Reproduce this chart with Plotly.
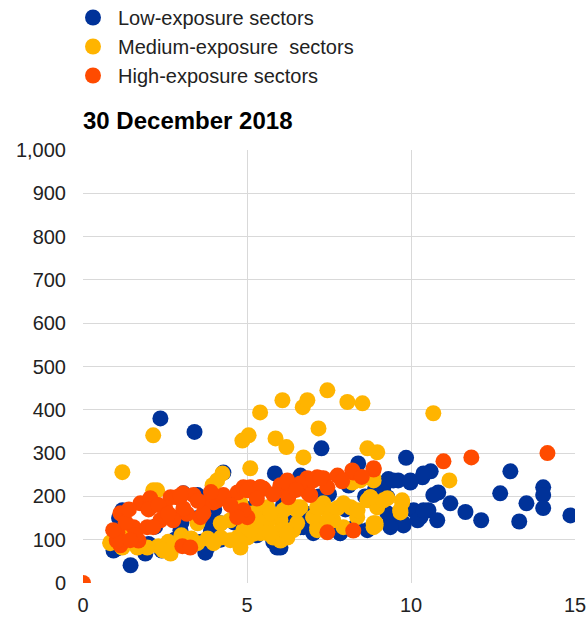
import plotly.graph_objects as go

# Low-exposure sectors
low_x = [2.36, 3.40, 7.27, 8.39, 9.85, 10.60, 10.35, 9.98, 9.61, 9.31, 10.83, 10.68, 11.20, 11.66, 12.14,
         12.72, 13.03, 13.52, 13.30, 14.03, 14.03, 14.03, 14.86, 10.53, 10.80, 10.29, 9.77, 9.37, 9.16, 9.28,
         9.28, 10.08, 5.85, 4.28, 1.45, 0.93, 1.05, 1.90, 3.73, 1.20, 3.50, 2.97, 3.88, 6.02, 6.63,
         7.02, 7.84, 8.67, 6.63, 1.0, 1.3, 1.6, 2.0, 2.4, 2.8, 3.2, 3.6, 3.9, 4.2, 4.6, 5.0, 5.3, 5.6, 5.8,
         6.1, 6.4, 6.8, 7.2, 7.6, 8.0, 8.3, 8.6, 3.0, 3.5, 4.0, 2.2, 1.1, 8.9, 8.1, 7.5, 5.2, 4.5,
         3.06, 3.49, 4.19, 3.79, 5.92, 9.77, 10.20, 10.38, 9.37, 6.72, 7.84, 9.46, 9.98, 10.38, 0.98, 1.20]
low_y = [380, 349, 311, 276, 289, 258, 244, 232, 237, 240, 209, 203, 184, 164, 145,
         207, 258, 184, 142, 221, 203, 173, 156, 168, 145, 152, 133, 140, 221, 161,
         198, 168, 253, 255, 41, 75, 80, 68, 70, 168, 198, 122, 138, 82, 129,
         115, 115, 122, 248, 110, 95, 120, 90, 75, 100, 85, 95, 120, 100, 140, 130, 110, 150, 95,
         180, 140, 160, 200, 140, 170, 130, 200, 140, 150, 170, 130, 150, 215, 225, 205, 175, 190,
         207, 203, 138, 82, 82, 138, 145, 168, 129, 129, 115, 237, 237, 253, 82, 145]

# Medium-exposure sectors
med_x = [5.40, 6.08, 6.70, 6.84, 7.45, 8.06, 8.52, 4.86, 5.05, 5.87, 6.20, 7.18, 6.72, 8.67, 8.97,
         5.10, 4.25, 3.95, 2.14, 1.20, 2.14, 10.68, 11.17, 0.84, 1.20, 1.70, 2.67, 2.30, 3.49, 4.20,
         4.20, 4.71, 5.20, 5.60, 6.02, 3.80, 3.30, 6.02, 5.61, 4.89, 4.80, 6.32, 4.80, 5.40, 6.23,
         6.63, 7.33, 7.76, 8.16, 8.67, 8.97, 7.02, 7.63, 8.36, 8.86, 6.02, 6.41, 7.14, 7.94, 8.86,
         6.23, 8.21, 8.86, 9.28, 9.73, 9.67, 8.92, 8.76, 2.60, 3.00, 1.45, 1.96, 2.57,
         0.83, 1.66, 2.45, 3.49, 3.98, 4.49, 5.01, 5.41, 5.80, 6.11, 6.53, 7.02, 4.49, 5.19, 5.62,
         6.53, 7.24, 2.26, 4.09, 8.76, 9.16, 9.73, 9.68, 8.92, 8.37, 7.94, 7.54, 7.14, 6.53, 6.11,
         5.71, 5.32, 5.10, 5.71, 6.23, 7.14, 7.45, 8.45, 8.85]
med_y = [394, 422, 406, 422, 445, 418, 415, 329, 341, 334, 314, 357, 290, 311, 302,
         265, 253, 226, 341, 256, 214, 392, 237, 94, 82, 90, 68, 85, 138, 138,
         105, 105, 114, 138, 145, 103, 103, 98, 115, 122, 82, 122, 184, 175, 175,
         175, 184, 173, 175, 191, 175, 152, 145, 152, 138, 122, 122, 129, 129, 129,
         105, 232, 237, 196, 191, 168, 133, 198, 95, 110, 110, 82, 82,
         92, 82, 75, 92, 92, 99, 105, 115, 105, 122, 138, 152, 145, 161, 175,
         175, 175, 214, 237, 198, 191, 186, 163, 138, 168, 184, 168, 175, 168, 168,
         161, 145, 122, 115, 115, 122, 145, 237, 244]

# High-exposure sectors
high_x = [0.0, 1.05, 1.23, 1.14, 1.54, 1.75, 1.96, 2.05, 2.36, 2.67, 2.76, 2.87, 3.05, 3.17, 1.14,
          1.03, 1.69, 3.03, 3.27, 3.37, 3.67, 3.98, 4.10, 4.28, 4.71, 4.89, 5.10, 5.40, 5.50, 6.02,
          6.02, 3.06, 3.58, 4.71, 5.01, 4.89, 6.23, 6.84, 6.84, 7.14, 7.33, 7.76, 8.24, 8.21, 8.86,
          8.86, 6.23, 6.26, 6.87, 7.45, 7.45, 8.24, 10.99, 11.84, 14.16, 2.0, 2.5, 1.3, 1.6,
          0.92, 2.97, 4.28, 5.01, 6.63, 7.02, 1.44, 2.14, 2.75, 3.67, 4.70, 6.93, 7.24, 6.23, 5.41,
          2.3, 3.5, 3.9, 4.5, 5.3, 5.8, 6.5, 7.9, 8.5, 1.4, 2.6]
high_y = [0, 117, 156, 161, 129, 184, 129, 196, 145, 198, 152, 198, 207, 160, 87,
          98, 98, 85, 82, 203, 184, 186, 191, 203, 209, 221, 221, 221, 218, 226,
          221, 172, 152, 161, 152, 168, 237, 242, 230, 244, 242, 248, 255, 260, 262,
          265, 207, 198, 207, 221, 117, 121, 281, 290, 300, 170, 175, 140, 110,
          122, 202, 198, 214, 230, 237, 99, 129, 145, 161, 152, 203, 242, 232, 221,
          180, 190, 210, 180, 195, 205, 215, 235, 245, 170, 160]

names = ["Low-exposure sectors", "Medium-exposure  sectors", "High-exposure sectors"]
colors = ["#003299", "#FFB400", "#FF4B00"]
y_ticks = [0, 100, 200, 300, 400, 500, 600, 700, 800, 900, 1000]
x_ticks = [0, 5, 10, 15]

FONT = "Liberation Sans, Arial, sans-serif"
W, H = 587, 619
PLOT_TOP, PLOT_H, PLOT_L, PLOT_W = 150, 433, 83, 492

fig = go.Figure()
for xs, ys, nm, col in zip([low_x, med_x, high_x], [low_y, med_y, high_y], names, colors):
    fig.add_trace(go.Scatter(
        x=xs, y=ys, mode="markers", name=nm,
        marker=dict(color=col, size=16, line=dict(width=0)),
        cliponaxis=True,
    ))

fig.update_layout(
    width=W, height=H,
    margin=dict(l=PLOT_L, r=W - PLOT_L - PLOT_W, t=PLOT_TOP, b=H - PLOT_TOP - PLOT_H, autoexpand=False),
    paper_bgcolor="white", plot_bgcolor="white",
    font=dict(family=FONT, size=20, color="#222222"),
    showlegend=True,
    legend=dict(
        xref="paper", yref="paper",
        x=(68 - PLOT_L) / PLOT_W, y=1 + (PLOT_TOP + 2) / PLOT_H,
        xanchor="left", yanchor="top",
        font=dict(size=20, color="#222222"),
        itemwidth=40, bgcolor="rgba(0,0,0,0)",
    ),
    title=dict(
        text="<b>30 December 2018</b>",
        xref="container", yref="container",
        x=PLOT_L / W, xanchor="left",
        y=1 - 121 / H, yanchor="middle",
        font=dict(size=24, color="#000000", family=FONT),
    ),
    xaxis=dict(
        range=[0, 15], tickvals=x_ticks, showgrid=True, gridcolor="#d9d9d9", gridwidth=1,
        zeroline=False, showline=False, ticks="", ticklabelstandoff=8,
        tickfont=dict(size=20, color="#222222"), fixedrange=True,
    ),
    yaxis=dict(
        range=[0, 1000], tickvals=y_ticks, tickformat=",", showgrid=True, gridcolor="#d9d9d9",
        gridwidth=1, zeroline=False, showline=False, ticks="", ticklabelstandoff=16,
        tickfont=dict(size=20, color="#222222"), fixedrange=True,
    ),
)

fig.write_html(
    "out.html",
    config={"displayModeBar": False},
    post_script="document.body.style.margin='0';document.body.style.overflow='hidden';",
)
